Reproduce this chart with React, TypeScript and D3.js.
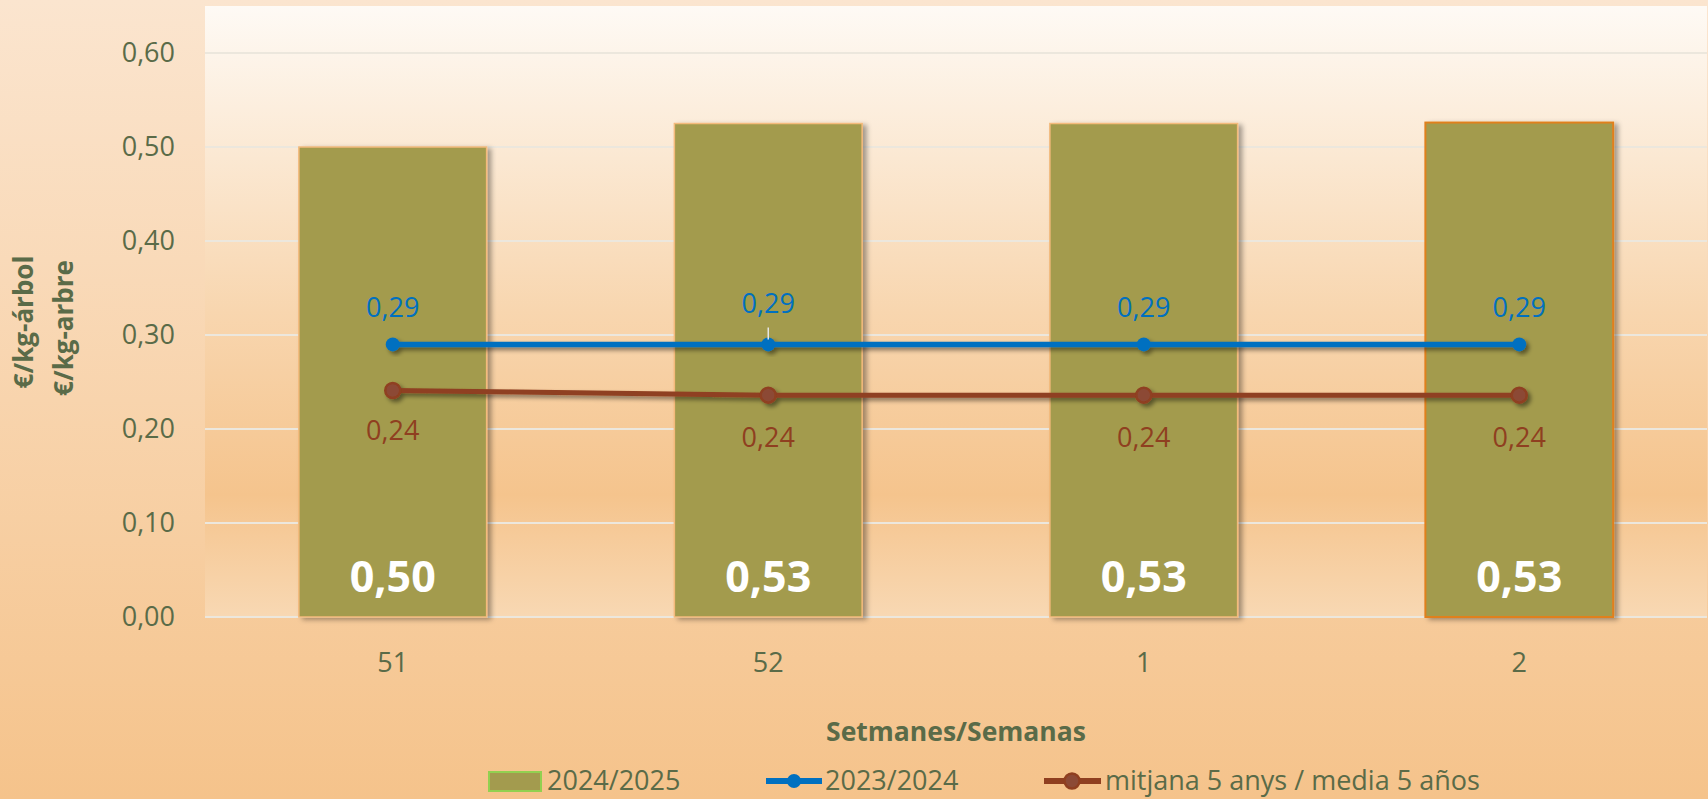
import React from "react";
import * as d3 from "d3";

// chart values
const weeks = ["51", "52", "1", "2"];
const season2425 = [0.5, 0.525, 0.525, 0.526];
const season2324 = [0.29, 0.29, 0.29, 0.29];
const average5y = [0.241, 0.236, 0.236, 0.236];
const yTicks = [0, 0.1, 0.2, 0.3, 0.4, 0.5, 0.6];
const legendLabels = ["2024/2025", "2023/2024", "mitjana 5 anys / media 5 años"];

const fmt = (v: number) => v.toFixed(2).replace(".", ",");

const App = () => {
	const width = 1708;
	const height = 799;
	const left = 205;
	const right = 1707;
	const top = 6;
	const bottom = 617;
	const font = "'Open Sans', sans-serif";
	const textColor = "#5a6b48";
	const blue = "#0070c0";
	const brown = "#8f3f20";

	const xScale = d3
		.scaleBand()
		.domain(weeks)
		.range([left, right])
		.paddingInner(0.5)
		.paddingOuter(0.25);
	const yScale = d3.scaleLinear().domain([0, 0.65]).range([bottom, top]);
	const cx = (w: string) => (xScale(w) as number) + xScale.bandwidth() / 2;

	const line = d3
		.line<number>()
		.x((_, i) => cx(weeks[i]))
		.y((d) => yScale(d));

	return (
		<svg
			width={width}
			height={height}
			style={{ position: "absolute", left: 0, top: 0, display: "block" }}
		>
			<defs>
				<linearGradient id="outerBg" x1="0" y1="0" x2="0" y2="1">
					<stop offset="0%" stopColor="#fbe5cf" />
					<stop offset="100%" stopColor="#f5c38b" />
				</linearGradient>
				<linearGradient id="plotBg" x1="0" y1="0" x2="0" y2="1">
					<stop offset="0%" stopColor="#fefaf5" />
					<stop offset="50%" stopColor="#f8d6af" />
					<stop offset="80%" stopColor="#f5c48d" />
					<stop offset="100%" stopColor="#f8d8b3" />
				</linearGradient>
				<filter id="shadow" x="-20%" y="-20%" width="140%" height="160%">
					<feDropShadow dx="3" dy="3" stdDeviation="2" floodColor="#000" floodOpacity="0.45" />
				</filter>
				<filter id="barShadow" x="-10%" y="-5%" width="120%" height="110%">
					<feDropShadow dx="4" dy="2" stdDeviation="2.5" floodColor="#000" floodOpacity="0.35" />
				</filter>
			</defs>

			<rect x={0} y={0} width={width} height={height} fill="url(#outerBg)" />
			<rect x={left} y={top} width={right - left} height={bottom - top} fill="url(#plotBg)" />

			{/* gridlines */}
			{yTicks.map((t) => (
				<line
					key={t}
					x1={left}
					x2={right}
					y1={yScale(t)}
					y2={yScale(t)}
					stroke="#ece7dd"
					strokeWidth={2}
				/>
			))}

			{/* y tick labels */}
			{yTicks.map((t) => (
				<text
					key={"l" + t}
					x={175}
					y={yScale(t)}
					dy="0.35em"
					textAnchor="end"
					fontFamily={font}
					fontSize={27}
					fill={textColor}
				>
					{fmt(t)}
				</text>
			))}

			{/* bars */}
			{season2425.map((v, i) => (
				<rect
					key={"b" + i}
					x={xScale(weeks[i])}
					y={yScale(v)}
					width={xScale.bandwidth()}
					height={yScale(0) - yScale(v)}
					fill="#a39b4e"
					stroke={i === season2425.length - 1 ? "#e0801f" : "#f4ba7c"}
					strokeWidth={i === season2425.length - 1 ? 2 : 1.5}
					filter="url(#barShadow)"
				/>
			))}

			{/* bar labels */}
			{season2425.map((v, i) => (
				<text
					key={"bl" + i}
					x={cx(weeks[i])}
					y={yScale(0) - 40}
					dy="0.35em"
					textAnchor="middle"
					fontFamily={font}
					fontWeight="bold"
					fontSize={43}
					fill="#ffffff"
				>
					{fmt(v)}
				</text>
			))}

			{/* 5-year average line */}
			<g filter="url(#shadow)">
				<path d={line(average5y) as string} fill="none" stroke={brown} strokeWidth={5} />
				{average5y.map((v, i) => (
					<circle
						key={"ac" + i}
						cx={cx(weeks[i])}
						cy={yScale(v)}
						r={7.5}
						fill="#8c4a36"
						stroke={brown}
						strokeWidth={2.5}
					/>
				))}
			</g>
			{average5y.map((v, i) => (
				<text
					key={"at" + i}
					x={cx(weeks[i])}
					y={yScale(v) + (i === 0 ? 40 : 42)}
					dy="0.35em"
					textAnchor="middle"
					fontFamily={font}
					fontSize={27}
					fill={brown}
				>
					{fmt(v)}
				</text>
			))}

			{/* 2023/2024 line */}
			<g filter="url(#shadow)">
				<path d={line(season2324) as string} fill="none" stroke={blue} strokeWidth={5.5} />
				{season2324.map((v, i) => (
					<circle key={"sc" + i} cx={cx(weeks[i])} cy={yScale(v)} r={7} fill={blue} />
				))}
			</g>
			<line
				x1={cx(weeks[1])}
				x2={cx(weeks[1])}
				y1={yScale(season2324[1]) - 17}
				y2={yScale(season2324[1]) - 5}
				stroke="#e6e6e6"
				strokeWidth={1.5}
			/>
			{season2324.map((v, i) => (
				<text
					key={"st" + i}
					x={cx(weeks[i])}
					y={yScale(v) - (i === 1 ? 41 : 37)}
					dy="0.35em"
					textAnchor="middle"
					fontFamily={font}
					fontSize={27}
					fill={blue}
				>
					{fmt(v)}
				</text>
			))}

			{/* x tick labels */}
			{weeks.map((w) => (
				<text
					key={"x" + w}
					x={cx(w)}
					y={663}
					dy="0.35em"
					textAnchor="middle"
					fontFamily={font}
					fontSize={27}
					fill={textColor}
				>
					{w}
				</text>
			))}

			{/* axis titles */}
			<text
				x={(left + right) / 2}
				y={732}
				dy="0.35em"
				textAnchor="middle"
				fontFamily={font}
				fontWeight="bold"
				fontSize={26.5}
				fill={textColor}
			>
				Setmanes/Semanas
			</text>
			<text
				transform={`translate(24, 322) rotate(-90)`}
				dy="0.35em"
				textAnchor="middle"
				fontFamily={font}
				fontWeight="bold"
				fontSize={26}
				fill={textColor}
			>
				€/kg-árbol
			</text>
			<text
				transform={`translate(64, 328) rotate(-90)`}
				dy="0.35em"
				textAnchor="middle"
				fontFamily={font}
				fontWeight="bold"
				fontSize={26}
				fill={textColor}
			>
				€/kg-arbre
			</text>

			{/* legend */}
			<g fontFamily={font} fontSize={27} fill={textColor}>
				<rect x={489} y={772} width={52} height={19} fill="#a39b4e" stroke="#92d050" strokeWidth={2} />
				<text x={547} y={781} dy="0.35em">
					{legendLabels[0]}
				</text>
				<line x1={766} x2={822} y1={781} y2={781} stroke={blue} strokeWidth={6} />
				<circle cx={794} cy={781} r={7} fill={blue} />
				<text x={825} y={781} dy="0.35em">
					{legendLabels[1]}
				</text>
				<line x1={1044} x2={1101} y1={781} y2={781} stroke={brown} strokeWidth={6} />
				<circle cx={1072} cy={781} r={7.5} fill="#8c4a36" stroke={brown} strokeWidth={2.5} />
				<text x={1105} y={781} dy="0.35em">
					{legendLabels[2]}
				</text>
			</g>
		</svg>
	);
};

export default App;
